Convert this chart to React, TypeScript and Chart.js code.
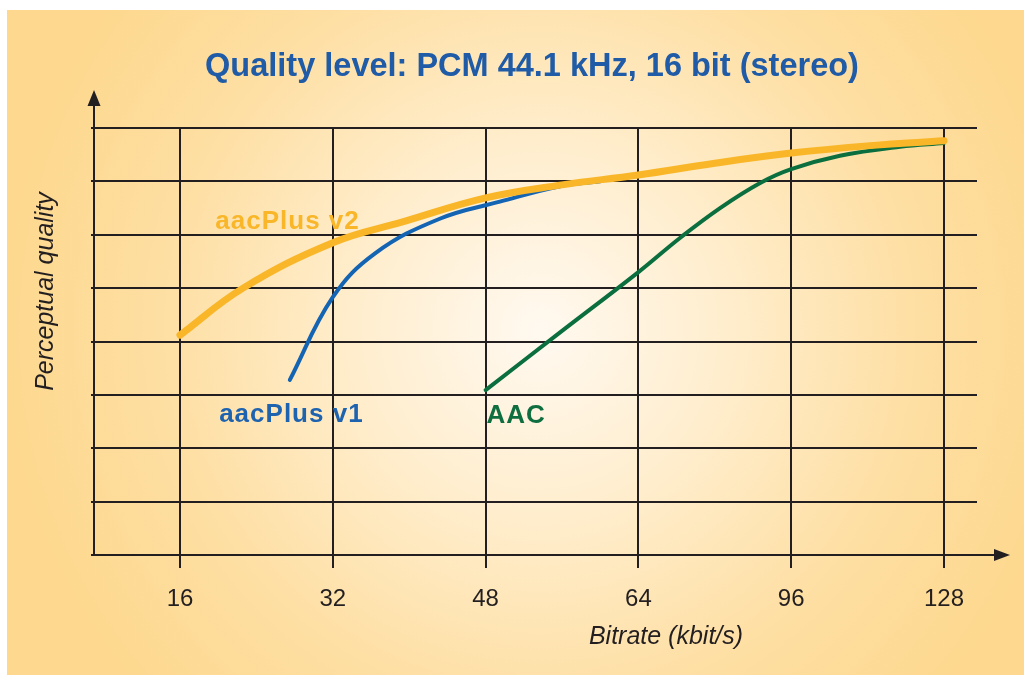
import React, { useEffect, useRef } from "react";
import { Chart, registerables } from "chart.js";

Chart.register(...registerables);

// Axis ticks (bitrate, kbit/s) – evenly spaced on the chart
const tickBitrates = [16, 32, 48, 64, 96, 128];
const tickLabels = ["16", "32", "48", "64", "96", "128"];
const qualityLevels = [0, 1, 2, 3, 4, 5, 6, 7, 8];

// Series: bitrate (kbit/s) and perceptual quality (grid units)
const aacPlusV2Bitrate = [16, 22.6, 32, 39.3, 48, 55.8, 64, 80, 96, 112.5, 128];
const aacPlusV2Quality = [4.12, 5.0, 5.85, 6.24, 6.69, 6.93, 7.12, 7.34, 7.53, 7.67, 7.76];

const aacPlusV1Bitrate = [27.5, 32, 36.5, 43.2, 49.5, 55.8, 60];
const aacPlusV1Quality = [3.28, 4.83, 5.66, 6.3, 6.62, 6.91, 7.0];

const aacBitrate = [48, 55.8, 64, 72.7, 81.1, 89.5, 96, 106.2, 118.8, 128];
const aacQuality = [3.09, 4.17, 5.3, 5.94, 6.5, 6.97, 7.23, 7.48, 7.65, 7.72];

// Series label anchors (bitrate, quality)
const seriesLabels = [
  { text: "aacPlus v2", bitrate: 19.7, quality: 6.11, color: "#F9B629" },
  { text: "aacPlus v1", bitrate: 20.1, quality: 2.49, color: "#1D63B0" },
  { text: "AAC", bitrate: 48.1, quality: 2.48, color: "#0F6E40" },
];

const TITLE = "Quality level: PCM 44.1 kHz, 16 bit (stereo)";
const X_TITLE = "Bitrate (kbit/s)";
const Y_TITLE = "Perceptual quality";

// piecewise mapping of bitrate to evenly spaced tick position
function pos(br: number): number {
  const t = tickBitrates;
  if (br <= t[0]) return (br - t[0]) / (t[1] - t[0]);
  for (let i = 0; i < t.length - 1; i++) {
    if (br <= t[i + 1]) return i + (br - t[i]) / (t[i + 1] - t[i]);
  }
  const n = t.length - 1;
  return n + (br - t[n]) / (t[n] - t[n - 1]);
}

const toPoints = (xs: number[], ys: number[]) => xs.map((b, i) => ({ x: pos(b), y: ys[i] }));

const FONT = "'Liberation Sans', Arial, Helvetica, sans-serif";
const INK = "#231F20";

export default function App() {
  const ref = useRef<HTMLCanvasElement | null>(null);

  useEffect(() => {
    if (!ref.current) return;

    const bgPlugin = {
      id: "bg",
      beforeDraw(chart: any) {
        const ctx = chart.ctx;
        ctx.save();
        ctx.fillStyle = "#ffffff";
        ctx.fillRect(0, 0, chart.width, chart.height);
        const g = ctx.createRadialGradient(540, 330, 0, 540, 330, 540);
        g.addColorStop(0, "#FFF9F0");
        g.addColorStop(0.3, "#FFEFD2");
        g.addColorStop(0.7, "#FEDFA3");
        g.addColorStop(1, "#FDD88E");
        ctx.fillStyle = g;
        ctx.fillRect(7, 10, chart.width - 7, chart.height - 10);
        ctx.restore();
      },
    };

    const decoPlugin = {
      id: "deco",
      afterDraw(chart: any) {
        const ctx = chart.ctx;
        const { left, right, top, bottom } = chart.chartArea;
        const xs = chart.scales.x;
        const ys = chart.scales.y;
        ctx.save();
        // axis extensions and arrows
        ctx.strokeStyle = INK;
        ctx.fillStyle = INK;
        ctx.lineWidth = 2;
        ctx.beginPath();
        ctx.moveTo(left, top);
        ctx.lineTo(left, 100);
        ctx.moveTo(right, bottom);
        ctx.lineTo(998, bottom);
        ctx.stroke();
        ctx.beginPath();
        ctx.moveTo(left, 90);
        ctx.lineTo(left - 6.5, 106);
        ctx.lineTo(left + 6.5, 106);
        ctx.closePath();
        ctx.fill();
        ctx.beginPath();
        ctx.moveTo(1010, bottom);
        ctx.lineTo(994, bottom - 6);
        ctx.lineTo(994, bottom + 6);
        ctx.closePath();
        ctx.fill();

        // title
        ctx.fillStyle = "#1F5BA6";
        ctx.font = `bold 32.5px ${FONT}`;
        ctx.textAlign = "center";
        ctx.textBaseline = "alphabetic";
        ctx.fillText(TITLE, 532, 76);

        // axis titles
        ctx.fillStyle = INK;
        ctx.font = `italic 25px ${FONT}`;
        ctx.fillText(X_TITLE, 666, 644);
        ctx.save();
        ctx.translate(53, 291.5);
        ctx.rotate(-Math.PI / 2);
        ctx.fillText(Y_TITLE, 0, 0);
        ctx.restore();

        // series labels
        ctx.textAlign = "left";
        ctx.font = `bold 26px ${FONT}`;
        (ctx as any).letterSpacing = "1px";
        for (const l of seriesLabels) {
          ctx.fillStyle = l.color;
          ctx.fillText(l.text, xs.getPixelForValue(pos(l.bitrate)), ys.getPixelForValue(l.quality));
        }
        ctx.restore();
      },
    };

    const common = { pointRadius: 0, borderCapStyle: "round", tension: 0.4, fill: false };

    const chart = new Chart(ref.current, {
      type: "line",
      data: {
        datasets: [
          {
            ...common,
            label: "aacPlus v2",
            data: toPoints(aacPlusV2Bitrate, aacPlusV2Quality),
            borderColor: "#F9B629",
            borderWidth: 7,
            order: 0,
          },
          {
            ...common,
            label: "aacPlus v1",
            data: toPoints(aacPlusV1Bitrate, aacPlusV1Quality),
            borderColor: "#1464B4",
            borderWidth: 4,
            order: 1,
          },
          {
            ...common,
            label: "AAC",
            data: toPoints(aacBitrate, aacQuality),
            borderColor: "#0B6E3E",
            borderWidth: 4,
            order: 2,
          },
        ],
      },
      options: {
        responsive: false,
        animation: false,
        events: [],
        layout: { padding: { left: 0, right: 1024 - 977, top: 128, bottom: 0 } },
        plugins: {
          legend: { display: false },
          title: { display: false },
          tooltip: { enabled: false },
        },
        scales: {
          x: {
            type: "linear",
            min: -(180 - 94) / 152.8,
            max: (977 - 180) / 152.8,
            afterBuildTicks: (scale: any) => {
              scale.ticks = tickBitrates.map((_, i) => ({ value: i }));
            },
            afterFit: (scale: any) => {
              scale.height = 675 - 555;
              scale.paddingLeft = 0;
              scale.paddingRight = 0;
            },
            grid: { color: INK, lineWidth: 2, tickLength: 13, drawTicks: true },
            border: { display: true, color: INK, width: 2 },
            ticks: {
              padding: 17,
              color: INK,
              font: { family: FONT, size: 24 },
              maxRotation: 0,
              autoSkip: false,
              callback: (v: any) => tickLabels[Math.round(Number(v))] ?? "",
            },
          },
          y: {
            type: "linear",
            min: qualityLevels[0],
            max: qualityLevels[qualityLevels.length - 1],
            afterBuildTicks: (scale: any) => {
              scale.ticks = qualityLevels.map((v) => ({ value: v }));
            },
            afterFit: (scale: any) => {
              scale.width = 94;
            },
            grid: { color: INK, lineWidth: 2, tickLength: 3 },
            border: { display: true, color: INK, width: 2 },
            ticks: { display: false },
          },
        },
      },
      plugins: [bgPlugin, decoPlugin],
    } as any);

    return () => chart.destroy();
  }, []);

  return (
    <div style={{ position: "fixed", left: 0, top: 0, width: 1024, height: 675 }}>
      <canvas ref={ref} width={1024} height={675} style={{ display: "block" }} />
    </div>
  );
}
